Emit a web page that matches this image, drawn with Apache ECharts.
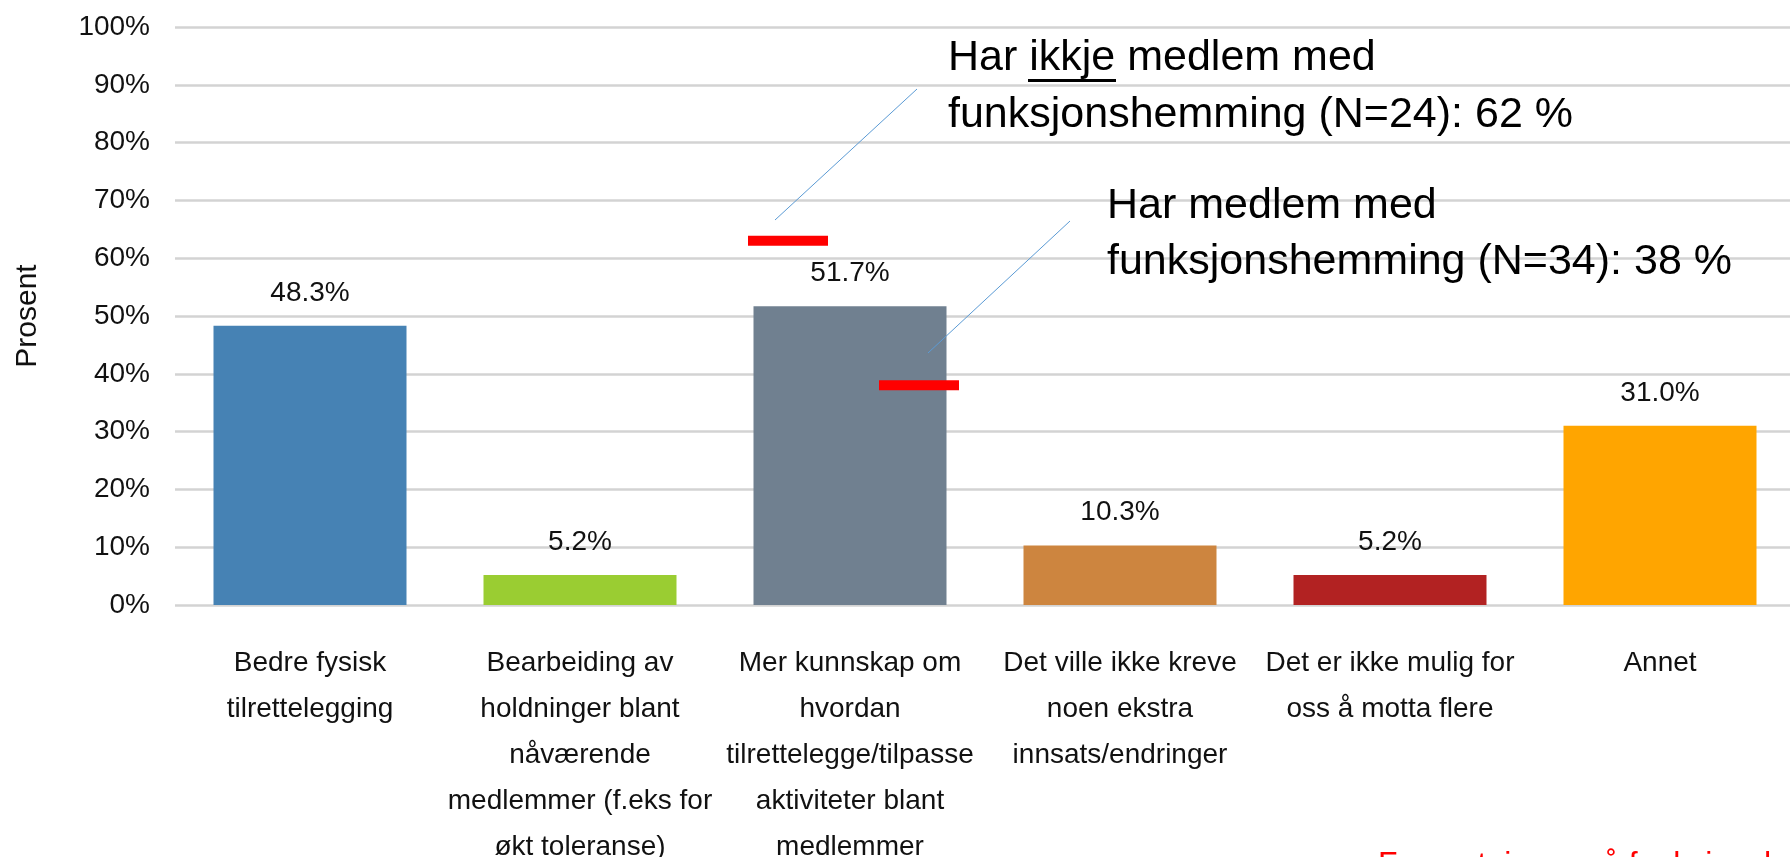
<!DOCTYPE html>
<html>
<head>
<meta charset="utf-8">
<script src="https://cdn.jsdelivr.net/npm/echarts@6/dist/echarts.min.js"></script>
<style>
  html, body { margin: 0; padding: 0; background: #fff; }
  #container { width: 1790px; height: 857px; }
</style>
</head>
<body>
<div id="container"></div>
<script>
// kategorier (x-akse)
var categories = [
  "Bedre fysisk\ntilrettelegging",
  "Bearbeiding av\nholdninger blant\nnåværende\nmedlemmer (f.eks for\nøkt toleranse)",
  "Mer kunnskap om\nhvordan\ntilrettelegge/tilpasse\naktiviteter blant\nmedlemmer",
  "Det ville ikke kreve\nnoen ekstra\ninnsats/endringer",
  "Det er ikke mulig for\noss å motta flere",
  "Annet"
];
// prosent per kategori
var values = [48.3, 5.2, 51.7, 10.3, 5.2, 31.0];
var barColors = ["#4682b4", "#9acd32", "#708090", "#cd853f", "#b22222", "#ffa500"];

// røde streker på "Mer kunnskap om..." (index 2)
var groupCategory = 2;
var groupValues = [63, 38];
var groupText = [
  ["Har ikkje medlem med", "funksjonshemming (N=24): 62 %"],
  ["Har medlem med", "funksjonshemming (N=34): 38 %"]
];

var yTicks = [0, 10, 20, 30, 40, 50, 60, 70, 80, 90, 100];

var FONT = "'Liberation Sans', Arial, sans-serif";
var TXT = "#111";

var barData = values.map(function (v, i) {
  return { value: v, itemStyle: { color: barColors[i] } };
});

var markData = groupValues.map(function (v, i) {
  return { value: [groupCategory, v], symbolOffset: [i === 0 ? -62 : 69, 0] };
});

var option = {
  backgroundColor: "#fff",
  animation: false,
  grid: {
    left: 175,
    right: -5,
    top: 27,
    bottom: 252,
    outerBoundsMode: "none"
  },
  xAxis: {
    type: "category",
    data: categories,
    axisLine: { show: false },
    axisTick: { show: false },
    axisLabel: {
      interval: 0,
      margin: 35,
      color: TXT,
      fontFamily: FONT,
      fontSize: 28,
      lineHeight: 46
    }
  },
  yAxis: {
    type: "value",
    min: yTicks[0],
    max: yTicks[yTicks.length - 1],
    interval: 10,
    name: "Prosent",
    nameLocation: "middle",
    nameRotate: 90,
    nameGap: 132,
    nameTextStyle: { color: TXT, fontFamily: FONT, fontSize: 30 },
    axisLine: { show: false },
    axisTick: { show: false },
    axisLabel: {
      margin: 25,
      color: TXT,
      fontFamily: FONT,
      fontSize: 28,
      formatter: "{value}%"
    },
    splitLine: { lineStyle: { color: "#d3d3d3", width: 2.5 } }
  },
  series: [
    {
      type: "bar",
      data: barData,
      barWidth: 193,
      label: {
        show: true,
        position: "top",
        distance: 19,
        color: TXT,
        fontFamily: FONT,
        fontSize: 28,
        lineHeight: 28,
        formatter: function (p) { return p.value.toFixed(1) + "%"; }
      }
    },
    {
      type: "scatter",
      data: markData,
      symbol: "rect",
      symbolSize: [80, 10],
      itemStyle: { color: "#ff0000", opacity: 1 },
      z: 5
    }
  ],
  graphic: {
    elements: [
      // ledelinjer
      { type: "line", z: 100, shape: { x1: 775, y1: 220, x2: 917, y2: 89 }, style: { stroke: "#5b9bd5", lineWidth: 1 } },
      { type: "line", z: 100, shape: { x1: 928, y1: 353, x2: 1070, y2: 221 }, style: { stroke: "#5b9bd5", lineWidth: 1 } },
      // tekst 1
      { type: "text", z: 100, x: 948, y: 58, style: { text: groupText[0][0], font: "43px " + FONT, fill: "#000", verticalAlign: "middle" } },
      { type: "rect", z: 100, shape: { x: 1028, y: 79, width: 88, height: 3 }, style: { fill: "#000" } },
      { type: "text", z: 100, x: 948, y: 115, style: { text: groupText[0][1], font: "43px " + FONT, fill: "#000", verticalAlign: "middle" } },
      // tekst 2
      { type: "text", z: 100, x: 1107, y: 206, style: { text: groupText[1][0], font: "43px " + FONT, fill: "#000", verticalAlign: "middle" } },
      { type: "text", z: 100, x: 1107, y: 262, style: { text: groupText[1][1], font: "43px " + FONT, fill: "#000", verticalAlign: "middle" } },
      // avkuttet rød tekst nederst
      { type: "text", z: 100, x: 1378, y: 865, style: { text: "Forventninger på funksjonshemming", font: "32px " + FONT, fill: "#ff0000", verticalAlign: "middle" } }
    ]
  }
};

var dom = document.getElementById("container");
var myChart = echarts.init(dom);
myChart.setOption(option, true);
</script>
</body>
</html>
